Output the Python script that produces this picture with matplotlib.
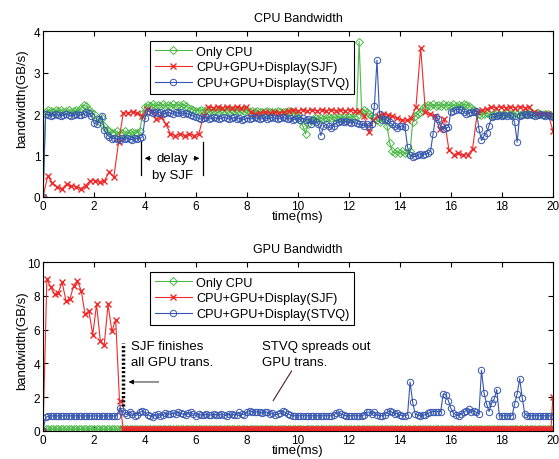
import matplotlib
matplotlib.use("Agg")
import matplotlib.pyplot as plt
import numpy as np

plt.rcParams['font.family'] = ['Liberation Sans', 'DejaVu Sans']

labels = ["Only CPU", "CPU+GPU+Display(SJF)", "CPU+GPU+Display(STVQ)"]

# ---- CPU bandwidth (GB/s), sampled evenly over 0..20 ms ----
cpu_only = [0.0,
            2.05, 2.1, 2.08, 2.05, 2.1, 2.08, 2.1, 2.05, 2.08, 2.1, 2.05, 2.08, 2.1, 2.08,
            2.15, 2.22, 2.2, 2.1, 2.05, 2.0, 1.88, 1.82, 1.9, 1.72, 1.62, 1.58, 1.55,
            1.55, 1.58, 1.52, 1.55, 1.58, 1.52, 1.55, 1.57, 1.53, 1.55, 1.6,
            2.0, 2.18,
            2.22, 2.2, 2.24, 2.2, 2.22, 2.2, 2.23, 2.2, 2.22, 2.2, 2.23, 2.2, 2.22, 2.2, 2.24, 2.2,
            2.15, 2.12, 2.1, 2.08,
            2.08, 2.1, 2.08, 2.1, 2.08, 2.1, 2.08, 2.1, 2.08, 2.1,
            2.08, 2.1, 2.08, 2.1, 2.08, 2.1, 2.08, 2.1, 2.08, 2.1,
            2.05, 2.08, 2.05, 2.08, 2.05, 2.06, 2.05, 2.08, 2.05, 2.06,
            2.05, 2.08, 2.05, 2.06, 2.05, 2.08, 2.05, 2.06, 2.0, 2.0,
            1.85, 1.7, 1.52, 1.75, 1.85,
            1.88, 1.9, 1.88, 1.9, 1.88, 1.9, 1.92, 1.9, 1.92, 1.9, 1.92, 1.9, 1.92, 1.9, 1.92, 1.9, 1.92, 1.95,
            3.75, 2.05, 2.1, 2.05, 2.0, 1.95, 1.9, 1.85, 1.8, 1.9, 1.85, 1.7, 1.3, 1.1,
            1.05, 1.1, 1.05, 1.1, 1.05, 1.05, 1.1, 1.8, 1.95, 2.0, 2.05, 2.15, 2.2,
            2.22, 2.2, 2.24, 2.2, 2.22, 2.2, 2.23, 2.2, 2.22, 2.2, 2.23, 2.2, 2.22, 2.2, 2.24, 2.22, 2.2, 2.15,
            2.1, 2.05,
            2.0, 1.98, 2.0, 2.02, 2.0, 1.98, 2.0, 2.02, 2.0, 1.98,
            2.0, 2.02, 2.0, 2.0, 2.02, 2.0, 1.98, 2.0, 2.02, 2.0,
            2.05, 2.02, 2.0, 2.02, 2.0, 1.98, 2.0, 2.0, 1.98, 1.95]

cpu_sjf = [0.0, 0.51, 0.33, 0.23, 0.19, 0.31, 0.27, 0.24, 0.2, 0.27,
           0.39, 0.39, 0.35, 0.39, 0.6, 0.48, 1.32, 2.02, 2.03, 2.05,
           2.02, 1.96, 2.12, 2.08, 1.88, 1.92, 1.76, 1.52, 1.48, 1.52,
           1.48, 1.52, 1.48, 1.52, 1.96, 2.18,
           2.15, 2.18, 2.15, 2.18, 2.15, 2.18, 2.15, 2.18,
           2.05, 2.0,
           2.02, 2.05, 2.03, 2.05, 2.02, 2.05, 2.08, 2.1, 2.08, 2.1, 2.08,
           2.1, 2.08, 2.1, 2.08, 2.1, 2.08, 2.1, 2.08, 2.1, 2.08,
           2.08, 1.95, 1.56, 1.85, 1.95, 2.0, 1.98, 1.95, 1.9, 1.85,
           1.85, 1.9, 2.17, 3.6, 2.05, 2.0, 1.95, 1.64, 1.88, 1.12,
           1.02, 1.05, 1.0, 1.02, 1.16, 2.05, 2.1, 2.12, 2.17,
           2.15, 2.18, 2.15, 2.18, 2.15, 2.18, 2.15,
           2.17, 2.05, 2.0, 2.0, 2.0, 1.6]

cpu_stvq = [0.0,
            2.0, 1.98, 1.95, 1.98, 2.0, 1.97, 1.95, 1.98, 2.0, 1.97, 1.95, 1.98, 2.0, 1.97, 1.98, 2.0,
            2.05, 2.02, 1.95, 1.78, 1.75, 1.88, 1.95, 1.62, 1.5, 1.45,
            1.4, 1.42, 1.4, 1.38, 1.42, 1.4, 1.42, 1.4, 1.38, 1.42, 1.4, 1.42,
            1.45, 1.9, 2.08,
            2.05, 2.02, 2.05, 2.02, 2.05, 2.0, 2.02, 2.05, 2.02, 2.0,
            2.05, 2.02, 2.05, 2.0, 2.02, 2.0, 1.98, 1.95, 1.92,
            1.9, 1.88, 1.9, 1.92, 1.88, 1.9, 1.92, 1.9, 1.88, 1.9,
            1.92, 1.9, 1.88, 1.9, 1.92, 1.88, 1.9, 1.85, 1.88, 1.9,
            1.88, 1.9, 1.92, 1.9, 1.88, 1.9, 1.92, 1.88, 1.9, 1.92,
            1.9, 1.88, 1.9, 1.92, 1.9, 1.88, 1.9, 1.85, 1.88, 1.9,
            1.85, 1.9, 1.85, 1.88, 1.75, 1.85, 1.8, 1.75, 1.48, 1.7,
            1.75, 1.7, 1.65, 1.72, 1.78, 1.8, 1.82, 1.8, 1.82, 1.8,
            1.78, 1.8, 1.78, 1.75, 1.75, 1.72, 1.75, 1.7, 1.75,
            2.2, 3.3, 2.0, 1.85, 1.88, 1.85, 1.8, 1.75, 1.7, 1.65, 1.7, 1.72, 1.68,
            1.2, 1.0, 0.96, 0.98, 1.02, 1.04, 1.02, 1.04, 1.05, 1.1,
            1.52, 1.93, 1.88, 1.7, 1.64, 1.66, 1.68, 2.05, 2.08, 2.1,
            2.12, 2.1, 2.05, 2.0, 2.02, 2.05, 2.05, 2.08, 1.64, 1.36,
            1.48, 1.55, 1.72, 1.92, 1.95,
            1.95, 1.98, 1.95, 1.98, 1.95, 1.98, 1.95, 1.8, 1.32, 1.96,
            1.98, 2.0, 1.98, 2.0, 1.98, 1.95, 1.98, 2.0, 1.98, 1.95,
            1.98, 1.95, 1.92]

# ---- GPU bandwidth (GB/s) ----
gpu_only = [0.0] + [0.1] * 200

# SJF: sparse samples until the GPU work ends (~3 ms), then a dense idle tail
gpu_sjf_burst = [0.0, 9.0, 8.5, 8.1, 8.2, 8.8, 7.7, 7.8, 8.6, 8.9,
                 8.3, 6.9, 7.1, 5.7, 7.5, 5.3, 5.1, 7.5, 5.9, 6.6,
                 1.75]
gpu_sjf_tail = [0.1] * 225 + [2.0]

gpu_stvq = [0.0, 0.8,
            0.88, 0.9, 0.88, 0.9, 0.88, 0.9, 0.88, 0.9, 0.88, 0.9,
            0.88, 0.9, 0.88, 0.9, 0.88, 0.9, 0.88, 0.9, 0.88, 0.9,
            0.88, 0.9, 0.88, 0.9, 0.88, 0.9, 0.88, 0.9,
            1.35, 1.2, 1.05, 0.95, 1.15, 1.0, 0.9, 0.95, 1.1, 1.2, 1.1, 0.95,
            0.9, 0.85, 0.95, 1.0, 0.9, 0.95, 1.05, 1.0, 1.0, 1.05,
            1.0, 1.1, 1.05, 1.0, 0.95, 1.05, 1.1, 1.0, 0.9, 1.0,
            0.95, 0.95, 1.0, 0.95, 0.95, 1.0, 0.95, 0.95, 1.0, 0.95,
            0.9, 1.0, 1.0, 0.95, 0.95, 1.1, 1.0, 0.95, 1.15, 1.2,
            1.15, 1.1, 1.15, 1.1, 1.05, 1.15, 1.1, 1.0, 1.05, 0.95,
            1.0, 1.05, 1.2, 1.1, 1.0, 0.95, 0.9, 0.9, 0.9, 0.9,
            0.9, 0.9, 0.9, 0.9, 0.9, 0.9, 0.9, 0.9, 0.9, 0.9,
            0.9, 0.9, 0.95, 1.05, 1.12, 1.0, 0.95, 0.9, 0.9, 0.9,
            0.9, 0.9, 0.9, 0.9, 0.95, 1.1, 1.12, 1.0, 1.1, 0.95,
            0.9, 0.9, 0.95, 1.1, 1.2, 1.1, 1.0, 1.05, 0.95, 0.9,
            0.9,
            0.95, 2.9, 1.7, 1.0, 0.95, 0.9, 0.95, 0.95, 1.05, 1.1,
            1.15, 1.15, 1.15, 1.15, 2.2, 2.15, 1.8, 1.35, 1.05, 0.95,
            0.9, 1.0, 1.1, 1.2, 1.3, 1.15, 1.2, 1.1, 1.0, 3.6,
            2.25, 1.6, 1.15, 1.65, 1.9, 2.45, 0.9,
            0.9, 0.9, 0.9, 0.9, 0.9,
            1.6, 2.2, 3.1, 1.95, 1.0, 0.9,
            0.9, 0.9, 0.9, 0.9, 0.9, 0.9, 0.9, 0.9, 0.9, 0.9]

green = '#4db848'
red = '#ee2a2a'
blue = '#3656b0'


def draw(ax, only, sjf_t, sjf, stvq):
    ax.plot(np.linspace(0, 20, len(only)), only, color=green, marker='D', ms=3.6,
            mfc='none', mew=0.7, lw=0.8, label=labels[0])
    ax.plot(sjf_t, sjf, color=red, marker='x', ms=4,
            mew=1.0, lw=0.8, label=labels[1])
    ax.plot(np.linspace(0, 20, len(stvq)), stvq, color=blue, marker='o', ms=4.6,
            mfc='none', mew=0.7, lw=0.8, label=labels[2])
    ax.set_xlim(0, 20)
    ax.set_xticks(range(0, 21, 2))
    ax.tick_params(direction='in', top=True, right=True, labelsize=8.5, length=3.5, pad=2)
    ax.set_xlabel("time(ms)", fontsize=9.5, labelpad=-1)
    ax.set_ylabel("bandwidth(GB/s)", fontsize=9.5)
    for s in ax.spines.values():
        s.set_linewidth(0.8)
    leg = ax.legend(loc='upper left', bbox_to_anchor=(0.21, 0.94), fontsize=9.1,
                    fancybox=False, edgecolor='black', framealpha=1, handlelength=3.0,
                    borderpad=0.35, labelspacing=0.3, handletextpad=0.3, borderaxespad=0)
    leg.get_frame().set_linewidth(0.8)


fig = plt.figure(figsize=(5.59, 4.60), dpi=100)
ax1 = fig.add_axes([0.077, 0.570, 0.912, 0.360])
ax2 = fig.add_axes([0.077, 0.061, 0.912, 0.367])

draw(ax1, cpu_only, np.linspace(0, 20, len(cpu_sjf)), cpu_sjf, cpu_stvq)
ax1.set_ylim(0, 4)
ax1.set_yticks(range(0, 5))
ax1.set_title("CPU Bandwidth", fontsize=9, pad=7)
ax1.yaxis.set_label_coords(-0.03, 0.6)

# delay annotation
ax1.plot([3.83, 3.83], [0.53, 1.33], color='black', lw=0.9)
ax1.plot([6.29, 6.29], [0.53, 1.33], color='black', lw=0.9)
ax1.annotate("", xy=(3.88, 0.93), xytext=(4.35, 0.93),
             arrowprops=dict(arrowstyle='-|>', color='black', lw=0.6, mutation_scale=7))
ax1.annotate("", xy=(6.24, 0.93), xytext=(5.8, 0.93),
             arrowprops=dict(arrowstyle='-|>', color='black', lw=0.6, mutation_scale=7))
ax1.text(5.07, 0.93, "delay", fontsize=9.5, ha='center', va='center')
ax1.text(5.07, 0.52, "by SJF", fontsize=9.5, ha='center', va='center')

sjf_t2 = np.concatenate([np.linspace(0, 3.0, len(gpu_sjf_burst)),
                         np.linspace(3.15, 20, len(gpu_sjf_tail))])
draw(ax2, gpu_only, sjf_t2, gpu_sjf_burst + gpu_sjf_tail, gpu_stvq)
ax2.set_ylim(0, 10)
ax2.set_yticks(range(0, 11, 2))
ax2.set_title("GPU Bandwidth", fontsize=9, pad=7)
ax2.yaxis.set_label_coords(-0.03, 0.54)

ax2.plot([3.15, 3.15], [1.5, 5.2], color='black', lw=2.5, ls=(0, (0.6, 0.6)))
ax2.annotate("", xy=(3.25, 2.9), xytext=(4.65, 2.9),
             arrowprops=dict(arrowstyle='-|>', color='black', lw=0.6, mutation_scale=7))
ax2.text(3.45, 5.05, "SJF finishes", fontsize=9.5, ha='left', va='center')
ax2.text(3.45, 4.1, "all GPU trans.", fontsize=9.5, ha='left', va='center')
ax2.plot([9.03, 9.75], [1.8, 3.55], color='#4a2030', lw=0.8)
ax2.text(8.6, 5.05, "STVQ spreads out", fontsize=9.5, ha='left', va='center')
ax2.text(8.6, 4.1, "GPU trans.", fontsize=9.5, ha='left', va='center')

fig.savefig("out.png", dpi=100)
